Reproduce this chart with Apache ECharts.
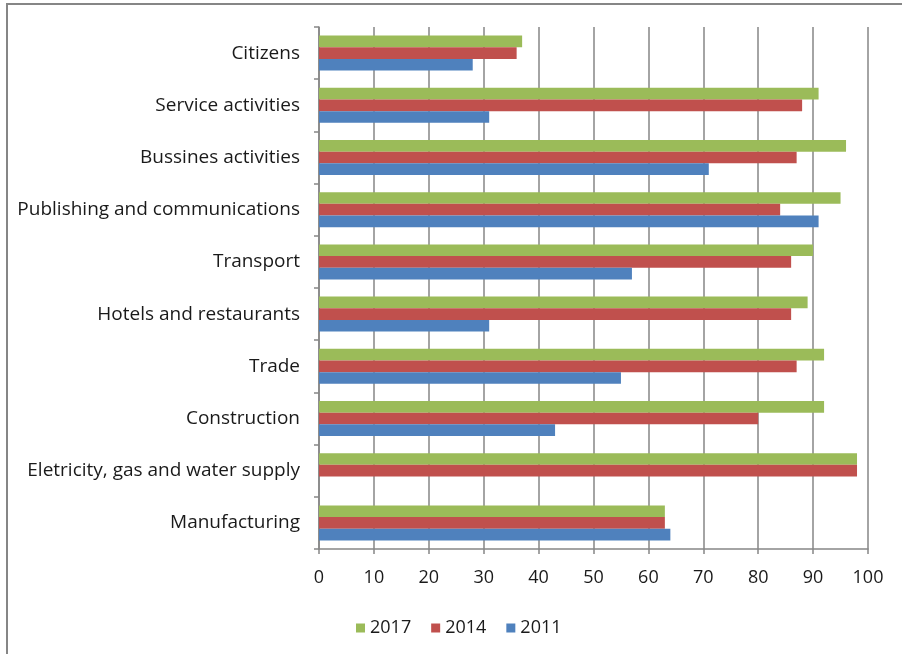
<!DOCTYPE html>
<html><head><meta charset="utf-8">
<script src="https://cdn.jsdelivr.net/npm/echarts@6/dist/echarts.min.js"></script>
<style>html,body{margin:0;padding:0;background:#fff}#c{width:902px;height:654px}</style>
</head><body><div id="c"></div>
<script>
const categories = ["Citizens","Service activities","Bussines activities","Publishing and communications","Transport","Hotels and restaurants","Trade","Construction","Eletricity, gas and water supply","Manufacturing"];
const v2017 = [37, 91, 96, 95, 90, 89, 92, 92, 98, 63];
const v2014 = [36, 88, 87, 84, 86, 86, 87, 80, 98, 63];
const v2011 = [28, 31, 71, 91, 57, 31, 55, 43, 0, 64];
const xTicks = {min: 0, max: 100, interval: 10};

const font = "'Open Sans', sans-serif";
const chart = echarts.init(document.getElementById('c'), null, {renderer: 'canvas'});
chart.setOption({
  animation: false,
  backgroundColor: '#fff',
  graphic: [{
    type: 'rect', shape: {x: 7, y: 4, width: 1200, height: 1200},
    style: {fill: 'none', stroke: '#868686', lineWidth: 2}, silent: true
  }],
  grid: {left: 319, right: 34, top: 27, bottom: 105, containLabel: false},
  legend: {
    left: 351, top: 614, itemWidth: 9, itemHeight: 9, itemGap: 20,
    icon: 'rect',
    textStyle: {fontFamily: font, fontSize: 18, color: '#1a1a1a'},
    data: ['2017','2014','2011']
  },
  xAxis: {
    type: 'value', min: xTicks.min, max: xTicks.max, interval: xTicks.interval,
    axisLine: {show: true, lineStyle: {color: '#868686', width: 1.5}},
    axisTick: {show: true, length: 5, lineStyle: {color: '#868686', width: 1.5}},
    splitLine: {show: true, lineStyle: {color: '#868686', width: 1.5}},
    axisLabel: {fontFamily: font, fontSize: 18, color: '#1a1a1a', margin: 20}
  },
  yAxis: {
    type: 'category', data: categories, inverse: true,
    axisLine: {show: true, lineStyle: {color: '#868686', width: 1.5}},
    axisTick: {show: true, length: 5, lineStyle: {color: '#868686', width: 1.5}},
    axisLabel: {fontFamily: font, fontSize: 19, color: '#1a1a1a', margin: 19}
  },
  series: [
    {name: '2017', type: 'bar', data: v2017, itemStyle: {color: '#9BBB59'}, barGap: '0%', barCategoryGap: '33%'},
    {name: '2014', type: 'bar', data: v2014, itemStyle: {color: '#C0504D'}, barGap: '0%', barCategoryGap: '33%'},
    {name: '2011', type: 'bar', data: v2011, itemStyle: {color: '#4F81BD'}, barGap: '0%', barCategoryGap: '33%'}
  ]
});
</script></body></html>
